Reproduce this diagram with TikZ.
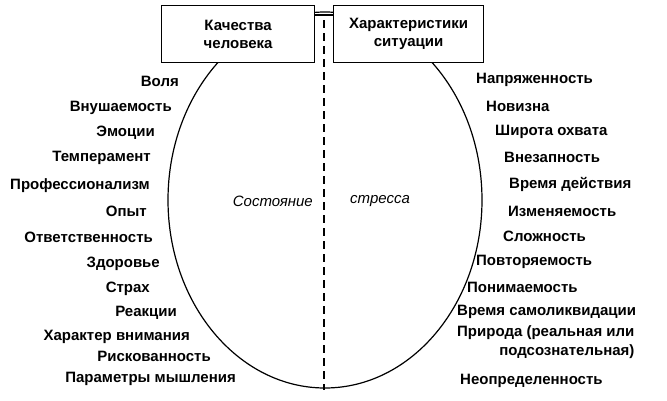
\documentclass[tikz,border=0pt]{standalone}
\usepackage{fontspec}
\setmainfont{Liberation Sans}
\usetikzlibrary{positioning}
\tikzset{
  lbl/.style={font=\bfseries\fontsize{15}{17}\selectfont, inner sep=0pt},
  llbl/.style={lbl, anchor=east},
  rlbl/.style={lbl, anchor=west},
  headbox/.style={draw, line width=1.2pt, fill=white, minimum width=153pt, minimum height=57pt, align=center, font=\bfseries\fontsize{15}{18}\selectfont}
}
\begin{document}
\begin{tikzpicture}[x=1pt,y=-1pt]
        \useasboundingbox (0,0) rectangle (667,400);
        \draw[line width=1.2pt] (325,200) ellipse (157 and 188);
        \draw[line width=1.2pt, dash pattern=on 8pt off 5pt] (324,20) -- (324,390);

        \node[headbox, anchor=north west] (quality) at (161,5) {Качества\\человека};
        \node[headbox, anchor=north west, minimum width=150pt] (situation) at (333,5) {Характеристики\\ситуации};
        \draw[line width=1.2pt] (quality.east |- 0,15) -- (situation.west |- 0,15);

        \node[lbl, font=\itshape\fontsize{15}{17}\selectfont, anchor=east] (state) at (313,201) {Состояние};
        \node[lbl, font=\itshape\fontsize{15}{17}\selectfont, anchor=west] (stress) at (350,201) {стресса};

        % human qualities
        \node[llbl] (q1) at (179,81) {Воля};
        \node[llbl] (q2) at (172,108) {Внушаемость};
        \node[llbl] (q3) at (155,133) {Эмоции};
        \node[llbl] (q4) at (151,158) {Темперамент};
        \node[llbl] (q5) at (150,186) {Профессионализм};
        \node[llbl] (q6) at (147,211) {Опыт};
        \node[llbl] (q7) at (153,237) {Ответственность};
        \node[llbl] (q8) at (160,264) {Здоровье};
        \node[llbl] (q9) at (150,289) {Страх};
        \node[llbl] (q10) at (177,313) {Реакции};
        \node[llbl] (q11) at (190,337) {Характер внимания};
        \node[llbl] (q12) at (211,356) {Рискованность};
        \node[llbl] (q13) at (236,379) {Параметры мышления};

        % situation features
        \node[rlbl] (s1) at (476,80) {Напряженность};
        \node[rlbl] (s2) at (486,106) {Новизна};
        \node[rlbl] (s3) at (495,132) {Широта охвата};
        \node[rlbl] (s4) at (504,157) {Внезапность};
        \node[rlbl] (s5) at (509,184) {Время действия};
        \node[rlbl] (s6) at (508,211) {Изменяемость};
        \node[rlbl] (s7) at (503,236) {Сложность};
        \node[rlbl] (s8) at (476,262) {Повторяемость};
        \node[rlbl] (s9) at (467,287) {Понимаемость};
        \node[rlbl] (s10) at (457,312) {Время самоликвидации};
        \node[rlbl, align=right, anchor=north west, font=\bfseries\fontsize{15}{19}\selectfont] (s11) at (457,325) {Природа (реальная или\\подсознательная)};
        \node[rlbl] (s12) at (460,381) {Неопределенность};
\end{tikzpicture}
\end{document}
